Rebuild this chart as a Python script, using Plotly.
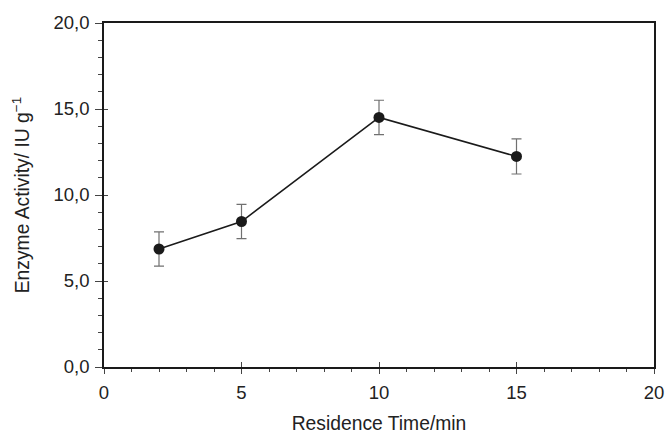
import plotly.graph_objects as go

time_min = [2, 5, 10, 15]
activity = [6.86, 8.46, 14.51, 12.24]
activity_err = [1.0, 1.0, 1.0, 1.02]

x_ticks = [0, 5, 10, 15, 20]
x_ticktext = ["0", "5", "10", "15", "20"]
y_ticks = [0, 5, 10, 15, 20]
y_ticktext = ["0,0", "5,0", "10,0", "15,0", "20,0"]

FONT = "Liberation Sans, Arial, sans-serif"
TXT = "#222222"
FS = 18.5
FT = 19.3

fig = go.Figure()
fig.add_trace(go.Scatter(
    x=time_min, y=activity,
    mode="lines+markers",
    line=dict(color="#1a1a1a", width=1.5),
    marker=dict(color="#1a1a1a", size=11),
    error_y=dict(type="data", array=activity_err, visible=True,
                 color="#707070", thickness=1.2, width=5),
    showlegend=False,
))
# invisible trace on overlay axes for inside-part of crossing major ticks
fig.add_trace(go.Scatter(x=[0], y=[0], xaxis="x2", yaxis="y2",
                         mode="markers", marker=dict(opacity=0),
                         showlegend=False, hoverinfo="skip"))

common_line = dict(showline=True, linecolor="#1a1a1a", linewidth=1.5,
                   showgrid=False, zeroline=False, automargin=False)

fig.update_layout(
    width=666, height=434,
    margin=dict(l=104, r=12, t=23, b=67),
    paper_bgcolor="white", plot_bgcolor="white",
    font=dict(family=FONT, color=TXT, size=FS),
    xaxis=dict(range=[0, 20], tickvals=x_ticks, ticktext=x_ticktext,
               ticks="outside", ticklen=5, tickcolor="#444444", tickwidth=1,
               ticklabelstandoff=3,
               minor=dict(dtick=1, ticks="outside", ticklen=3,
                          tickcolor="#444444", tickwidth=1),
               mirror=True,
               title=dict(text="Residence Time/min", standoff=18,
                          font=dict(size=FT, color=TXT)),
               tickfont=dict(size=FS, color=TXT), **common_line),
    yaxis=dict(range=[0, 20], tickvals=y_ticks, ticktext=y_ticktext,
               ticks="outside", ticklen=7, tickcolor="#444444", tickwidth=1,
               ticklabelstandoff=2,
               minor=dict(dtick=1, ticks="outside", ticklen=4,
                          tickcolor="#444444", tickwidth=1),
               mirror=True,
               title=dict(text="Enzyme Activity/ IU g<sup>\u22121</sup>", standoff=19,
                          font=dict(size=FT, color=TXT)),
               tickfont=dict(size=FS, color=TXT), **common_line),
    xaxis2=dict(range=[0, 20], overlaying="x", side="bottom", anchor="y2",
                tickvals=x_ticks, showticklabels=False, ticks="inside",
                ticklen=5, tickcolor="#444444", tickwidth=1,
                showline=False, showgrid=False, zeroline=False),
    yaxis2=dict(range=[0, 20], overlaying="y", side="left", anchor="x2",
                tickvals=y_ticks, showticklabels=False, ticks="inside",
                ticklen=4, tickcolor="#444444", tickwidth=1,
                showline=False, showgrid=False, zeroline=False),
)

fig.write_html("out.html", config={"displayModeBar": False},
               post_script="document.body.style.margin='0';document.body.style.padding='0';")
